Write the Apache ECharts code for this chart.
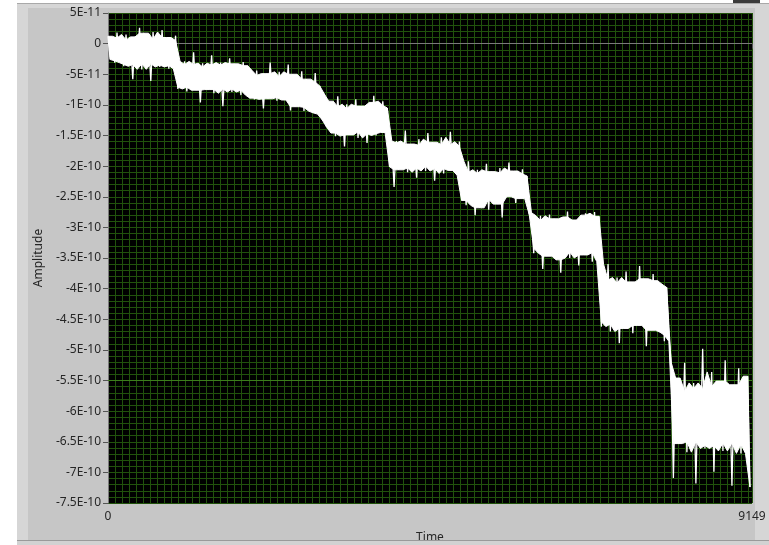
<!DOCTYPE html>
<html>
<head>
<meta charset="utf-8">
<script src="https://cdn.jsdelivr.net/npm/echarts@6/dist/echarts.min.js"></script>
<style>
  html, body { margin: 0; padding: 0; background: #ffffff; }
  #chart { width: 769px; height: 545px; }
</style>
</head>
<body>
<div id="chart"></div>
<script>
// Waveform record: 9150 samples, shown decimated (one value every 32 samples,
// alternating local maxima / minima). Amplitude in units of 1E-11.
const sampleStep = 32;
const lastSample = 9149;
const amplitude = [
  // level 1
  1.2, -2.6, 0.9, -3.1, 1.8, -2.8, 0.6, -3.7, 1.5, -3.4, 0.2, -5.8, 1.1, -2.9, 2.6, -4.2,
  1.7, -3.3, 0.4, -6.1, 1.9, -3.0, 0.7, -3.8, 2.2, -3.5, 1.0, -4.1, 0.5, -3.6, 1.3,
  // level 2
  -7.4, -3.6, -7.1, -2.9, -7.8, -3.4, -6.9, -1.4, -7.6, -3.8, -9.6, -3.2, -7.2, -3.9, -7.5, -1.9,
  -8.1, -3.5, -7.0, -3.1, -10.2, -3.7, -7.4, -2.4, -7.9, -3.3, -7.1, -3.8, -8.4, -3.0, -7.6, -3.6,
  // level 3
  -8.9, -5.2, -9.1, -4.4, -8.7, -5.6, -10.6, -4.9, -9.0, -3.1, -8.8, -5.4, -9.3, -4.6, -8.6, -5.9,
  -9.2, -3.4, -10.9, -5.0, -10.3, -6.1, -9.9, -4.5, -11.0, -5.8, -10.4, -6.3, -11.3, -4.8,
  -11.5, -6.9, -12.4, -8.2, -13.6, -9.4,
  // level 4
  -14.6, -10.3, -15.1, -8.6, -14.2, -10.8, -16.8, -9.9, -14.9, -10.6, -13.9, -9.1, -15.4, -10.2,
  -14.4, -10.9, -16.2, -9.6, -14.7, -8.5, -15.0, -10.1, -13.8, -9.4, -14.5, -10.5,
  // level 5
  -20.1, -16.2, -23.4, -15.9, -20.6, -16.8, -19.8, -14.2, -21.0, -16.4, -20.3, -17.0, -21.9, -15.6,
  -20.0, -16.6, -20.8, -14.6, -19.6, -16.1, -22.4, -16.9, -20.4, -15.3, -21.2, -16.5, -19.9, -14.4,
  -20.7, -16.8, -21.5, -16.0,
  // level 6
  -25.6, -21.0, -26.4, -19.2, -25.1, -21.4, -28.0, -20.6, -26.8, -21.2, -25.4, -19.6, -27.1, -20.9,
  -24.9, -21.5, -26.2, -20.3, -28.4, -21.1, -25.0, -19.4, -24.6, -20.8, -26.0, -21.3, -25.3, -20.5,
  -24.7, -21.6, -27.9,
  // level 7
  -27.6, -34.2, -28.9, -33.4, -28.1, -36.8, -29.2, -34.7, -27.9, -33.6, -28.6, -35.3, -29.0, -37.4,
  -28.3, -34.0, -27.4, -35.0, -28.8, -33.3, -29.3, -36.2, -28.0, -34.5, -27.7, -33.9, -28.5, -35.6,
  -27.5, -34.1, -28.2,
  // level 8
  -46.2, -38.6, -45.4, -36.0, -47.0, -39.4, -45.8, -38.2, -48.9, -39.1, -46.5, -37.2, -45.2, -38.9,
  -47.3, -39.6, -46.0, -36.3, -45.6, -38.4, -49.4, -39.0, -46.8, -37.6, -45.3, -38.7, -47.1, -39.3,
  -48.6, -39.8,
  // level 9
  -47.6, -52.0, -70.9, -54.6, -65.3, -56.8, -64.5, -52.1, -66.7, -57.2, -65.0, -55.4, -71.8, -56.3,
  -64.2, -49.8, -66.1, -57.5, -65.6, -53.6, -69.9, -56.0, -64.8, -55.1, -66.5, -51.7, -65.2, -57.0,
  -72.2, -55.7, -64.4, -53.0, -66.9, -56.6, -65.4, -54.3, -72.4
];

// Axis settings (amplitude axis in units of 1E-11)
const yMin = -75, yMax = 5, yStep = 5;
const highlightLevel = -55;

const gridColor = '#21520c';
const labelFont = '"Noto Sans", "DejaVu Sans", sans-serif';
const textColor = '#262626';

function amplitudeLabel(v) {
  if (v === 0) return '0';
  if (Math.abs(v) < 10) return v + 'E-11';
  return (Math.round(v) / 10) + 'E-10';
}

const seriesData = amplitude.map((v, i) => [Math.min(i * sampleStep, lastSample), v]);

// Solid core of the trace: peaks (even samples) and troughs (odd samples),
// each replaced by the median of itself and its two neighbours so isolated
// spikes are left to the thin trace line.
const peaks = seriesData.filter((_, i) => i % 2 === 0);
const troughs = seriesData.filter((_, i) => i % 2 === 1);
function median3(a, b, c) {
  return Math.max(Math.min(a, b), Math.min(Math.max(a, b), c));
}
function core(list) {
  return list.map((p, k) => {
    const a = list[Math.max(0, k - 1)][1];
    const b = list[Math.min(list.length - 1, k + 1)][1];
    return [p[0], median3(a, p[1], b)];
  });
}
const coreTop = core(peaks);
const coreBottom = core(troughs);

function renderCore(params, api) {
  const pts = coreTop.map((p) => api.coord(p))
    .concat(coreBottom.slice().reverse().map((p) => api.coord(p)));
  return {
    type: 'polygon',
    shape: { points: pts },
    style: { fill: '#ffffff', stroke: '#ffffff', lineWidth: 1 }
  };
}

const chart = echarts.init(document.getElementById('chart'), null, { renderer: 'canvas' });

chart.setOption({
  animation: false,
  backgroundColor: 'transparent',
  graphic: [
    { type: 'rect', z: -10, shape: { x: 17, y: 3, width: 752, height: 540 }, style: { fill: '#d6d6d6' } },
    { type: 'rect', z: -10, shape: { x: 17, y: 3, width: 752, height: 1 }, style: { fill: '#a9a9a9' } },
    { type: 'rect', z: -9, shape: { x: 28, y: 8, width: 727, height: 532 }, style: { fill: '#c6c6c6' } },
    { type: 'rect', z: -9, shape: { x: 733, y: 0, width: 27, height: 3 }, style: { fill: '#3a3a3a' } },
    { type: 'rect', z: 100, shape: { x: 17, y: 540, width: 752, height: 5 }, style: { fill: '#d2d2d2' } },
    { type: 'rect', z: 100, shape: { x: 17, y: 540, width: 752, height: 1 }, style: { fill: '#9a9a9a' } }
  ],
  grid: {
    left: 108, top: 13, width: 644, height: 490,
    outerBoundsMode: 'none',
    containLabel: false,
    show: true, backgroundColor: '#000000', borderWidth: 0
  },
  xAxis: [
    {
      type: 'value', min: 0, max: lastSample, interval: lastSample,
      position: 'bottom',
      name: 'Time', nameLocation: 'middle', nameGap: 29,
      nameTextStyle: { color: textColor, fontFamily: labelFont, fontSize: 12 },
      axisLine: { show: true, lineStyle: { color: '#7a7a7a', width: 1 } },
      axisTick: { show: true, length: 5, lineStyle: { color: '#555555' } },
      axisLabel: {
        show: true, margin: 8, color: textColor, fontFamily: labelFont, fontSize: 12,
        formatter: (v) => String(v)
      },
      splitLine: { show: false }
    },
    {
      type: 'value', min: 0, max: lastSample, interval: 100,
      position: 'bottom',
      axisLine: { show: false }, axisTick: { show: false }, axisLabel: { show: false },
      splitLine: { show: true, lineStyle: { color: gridColor, width: 1 } }
    }
  ],
  yAxis: {
    type: 'value', min: yMin, max: yMax, interval: yStep,
    name: 'Amplitude', nameLocation: 'middle', nameGap: 54,
    nameTextStyle: { color: textColor, fontFamily: labelFont, fontSize: 12 },
    axisLine: { show: true, lineStyle: { color: '#7a7a7a', width: 1 } },
    axisTick: { show: true, length: 5, lineStyle: { color: '#555555' } },
    axisLabel: { margin: 7, color: textColor, fontFamily: labelFont, fontSize: 12, formatter: amplitudeLabel },
    splitLine: { show: true, lineStyle: { color: gridColor, width: 1 } },
    minorTick: { show: false, splitNumber: 5 },
    minorSplitLine: { show: true, lineStyle: { color: gridColor, width: 1 } }
  },
  series: [
    {
      type: 'custom',
      coordinateSystem: 'cartesian2d',
      xAxisIndex: 0,
      data: [[0, 0]],
      renderItem: renderCore,
      clip: true,
      silent: true,
      z: 4
    },
    {
      type: 'line',
      xAxisIndex: 0,
      data: seriesData,
      showSymbol: false,
      symbol: 'none',
      lineStyle: { color: '#ffffff', width: 1.3 },
      z: 5,
      markLine: {
        silent: true, symbol: 'none', label: { show: false },
        lineStyle: { color: '#3c7d1c', width: 1, type: 'solid' },
        data: [{ yAxis: highlightLevel }],
        z: 3
      }
    }
  ]
});
</script>
</body>
</html>
